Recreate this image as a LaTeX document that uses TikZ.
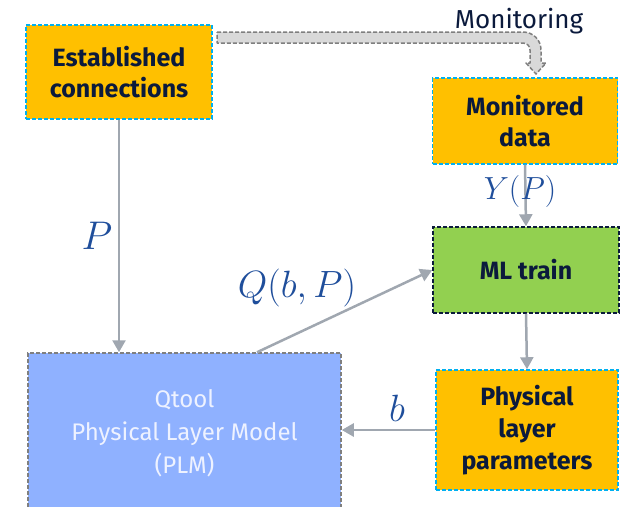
\documentclass[tikz,border=0pt]{standalone}
\usepackage{fix-cm}
\usepackage{fontspec}
\setmainfont{Fira Sans}
\usetikzlibrary{arrows.meta}
\definecolor{orangebox}{HTML}{FFC000}
\definecolor{cyanline}{HTML}{00B0F0}
\definecolor{greenbox}{HTML}{92D050}
\definecolor{navy}{HTML}{0B1A3C}
\definecolor{bluebox}{HTML}{8FB1FF}
\definecolor{grayline}{HTML}{7F7F7F}
\definecolor{conn}{HTML}{A0A7B0}
\definecolor{mathblue}{HTML}{1F4E9B}
\definecolor{lightgray}{HTML}{D9D9D9}
\definecolor{qtext}{HTML}{EEF2FF}
\tikzset{
  box/.style={rectangle, draw, line width=1.5pt, dash pattern=on 4pt off 2pt, align=center, inner sep=0pt, font=\fontsize{25}{31}\selectfont\bfseries, text=navy},
  obox/.style={box, fill=orangebox, draw=cyanline},
  gbox/.style={box, fill=greenbox, draw=navy},
  qbox/.style={box, fill=bluebox, draw=grayline, font=\fontsize{24}{33}\selectfont, text=qtext},
  conn/.style={draw=conn, line width=2.5pt, -{Triangle[length=12pt,width=13pt]}},
  mlab/.style={text=mathblue, inner sep=0pt}
}
\begin{document}
\begin{tikzpicture}[x=1pt,y=-1pt]
\useasboundingbox (0,0) rectangle (628,506);
\clip (0,0) rectangle (628,506);
\node[obox, minimum width=186pt, minimum height=94pt] (est) at (119,72) {Established\\connections};
\node[obox, minimum width=185pt, minimum height=86pt] (mon) at (525,121) {Monitored\\data};
\node[gbox, minimum width=186pt, minimum height=86pt] (ml) at (526,270) {ML train};
\node[obox, minimum width=182pt, minimum height=120pt, font=\fontsize{25}{32}\selectfont\bfseries] (phys) at (527,430) {Physical\\layer\\parameters};
\node[qbox, minimum width=313pt, minimum height=160pt] (qt) at (184.5,433) {Qtool\\Physical Layer Model\\(PLM)};
% connectors
\draw[conn] (est.south) -- (est.south |- qt.north);
\draw[conn] (mon.south) -- (ml.north);
\draw[conn] (ml.south) -- (phys.north);
\draw[conn] (phys.west) -- (phys.west -| qt.east);
\coordinate (qs) at ([xshift=72.5pt]qt.north);
\draw[conn] (qs) -- (ml.west);
% labels
\node[mlab, font=\fontsize{40}{40}\selectfont] (lp) at (97,236) {$P$};
\node[mlab, font=\fontsize{32}{32}\selectfont] (ly) at (520,191) {$Y(P)$};
\node[mlab, font=\fontsize{38}{38}\selectfont] (lq) at (297,288) {$Q(b,P)$};
\node[mlab, font=\fontsize{38}{38}\selectfont] (lb) at (397,408) {$b$};
% monitoring fat arrow
\draw[fill=lightgray, draw=grayline, line width=1.5pt, dash pattern=on 4pt off 2pt, line join=round]
  (217,32) -- (523,32) .. controls (533,32) and (541,40) .. (541,50)
  -- (541,63) -- (546,63) -- (536,74) -- (526,63) -- (530,63) -- (530,50)
  .. controls (530,46) and (527,43) .. (523,43) -- (217,43) -- cycle;
\node[text=navy, font=\fontsize{26}{26}\selectfont, inner sep=0pt] (monlab) at (519,21) {Monitoring};
\end{tikzpicture}
\end{document}
